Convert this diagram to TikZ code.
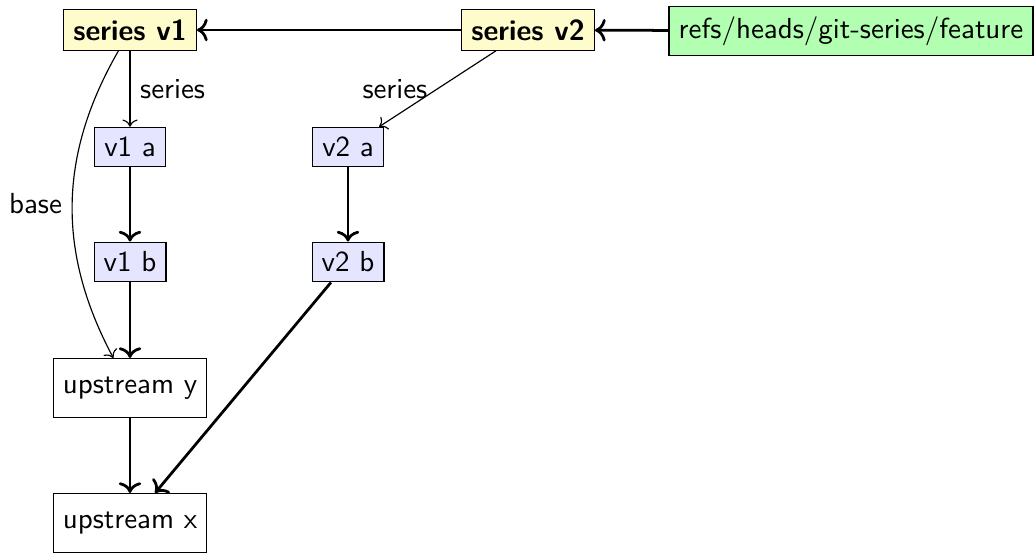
\documentclass[tikz,border=0pt]{standalone}
\usepackage{fontspec}
\usetikzlibrary{arrows.meta}
\begin{document}
\begin{tikzpicture}[x=0.3448pt,y=-0.3448pt,font=\sffamily,
  box/.style={draw,thin,inner sep=3.33pt},
  ser/.style={box,fill=yellow!20,font=\sffamily\bfseries},
  cmt/.style={box,fill=blue!10},
  up/.style={box,minimum height=20.3pt,minimum width=53pt},
  ref/.style={box,fill=green!30,minimum height=16.2pt},
  strong/.style={->,line width=0.95pt},
  weak/.style={->,thin}]
\useasboundingbox (0,0) rectangle (1035,553);
\node[ser] (s1) at (130,30) {series v1};
\node[ser] (s2) at (528,30) {series v2};
\node[ref] (r) at (851,31) {refs/heads/git-series/feature};
\node[cmt] (v1a) at (130,147) {v1 a};
\node[cmt] (v2a) at (348,147) {v2 a};
\node[cmt] (v1b) at (130,262) {v1 b};
\node[cmt] (v2b) at (348,262) {v2 b};
\node[up] (uy) at (130,388) {upstream y};
\node[up] (ux) at (130,523) {upstream x};
\draw[strong] (r) -- (s2);
\draw[strong] (s2) -- (s1);
\draw[weak] (s1) -- node[right] {series} (v1a);
\draw[weak] (s2) -- node[left] {series} (v2a);
\draw[strong] (v1a) -- (v1b);
\draw[strong] (v2a) -- (v2b);
\draw[strong] (v1b) -- (uy);
\draw[strong] (uy) -- (ux);
\draw[strong] (v2b) -- (ux);
\draw[weak] (s1) to[bend right=29] node[left] {base} (uy);
\end{tikzpicture}
\end{document}
